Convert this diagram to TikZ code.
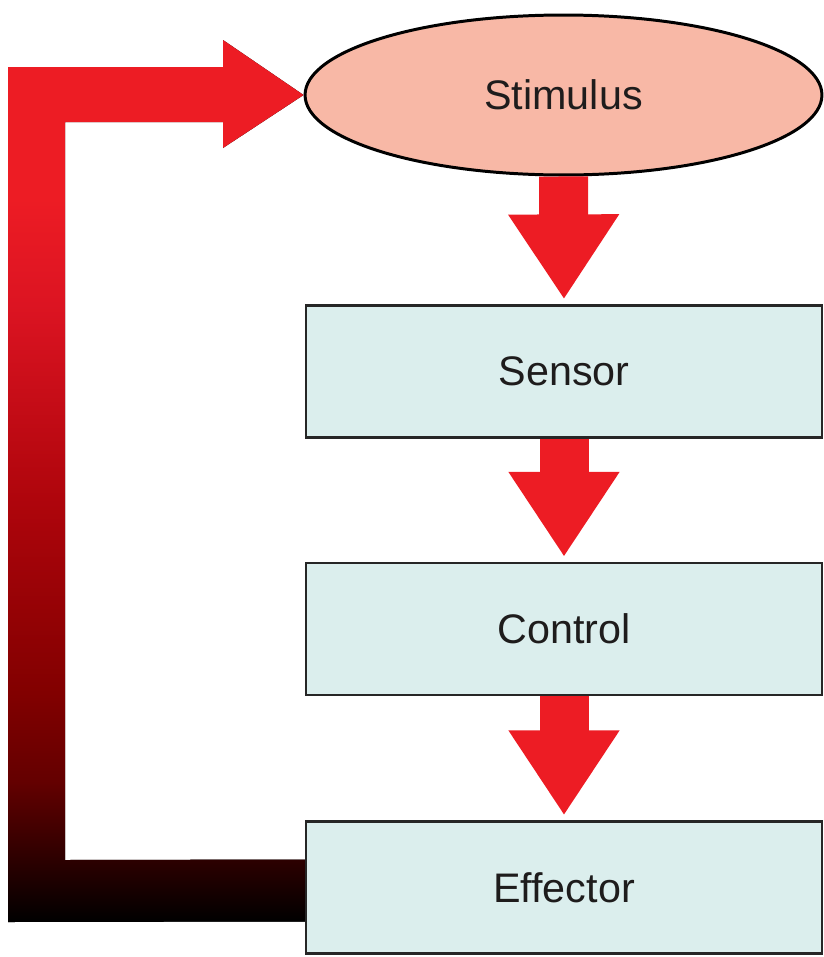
\documentclass[tikz,border=0pt]{standalone}
\usepackage{fontspec}
\setmainfont{Liberation Sans}
\usetikzlibrary{shapes.geometric,arrows.meta,calc}

\definecolor{arrowred}{RGB}{237,28,36}
\definecolor{stimfill}{RGB}{248,184,166}
\definecolor{boxfill}{RGB}{219,238,237}
\definecolor{loopred}{RGB}{220,20,34}
\definecolor{loopmid}{RGB}{175,5,12}
\definecolor{loopdark}{RGB}{130,0,0}
\definecolor{loopdeep}{RGB}{100,0,0}
\definecolor{textdark}{RGB}{30,28,28}

% red at the top, black at the bottom
\pgfdeclareverticalshading{loopshade}{100bp}{color(0bp)=(black); color(25bp)=(black);
	color(33bp)=(loopdeep); color(38bp)=(loopdark); color(49bp)=(loopmid);
	color(60bp)=(loopred); color(66bp)=(arrowred); color(100bp)=(arrowred)}

\begin{document}
\begin{tikzpicture}[x=0.02cm,y=-0.02cm]

	\tikzstyle{stimnode} = [ellipse,draw=black,line width=1.7pt,fill=stimfill,minimum width=10.34cm,minimum height=3.2cm,inner sep=0pt,text=textdark,font=\fontsize{23.5}{28}\selectfont]
	\tikzstyle{block} = [rectangle,draw=black!85,line width=1.3pt,fill=boxfill,minimum width=10.32cm,minimum height=2.64cm,text=textdark,font=\fontsize{23.5}{28}\selectfont]
	\tikzstyle{downarrow} = [arrowred,line width=0.98cm,-{Triangle[length=1.7cm,width=2.1cm]},shorten >=0.1cm]

	\useasboundingbox (0,0) rectangle (823,957);

	\node[stimnode] (stim) at (563.5,95) {Stimulus};
	\node[block] (sens) at (564,371.5) {Sensor};
	\node[block] (ctrl) at (564,629) {Control};
	\node[block] (eff) at (564,887.5) {Effector};

	\draw[downarrow] (stim.south) -- (sens.north);
	\draw[downarrow] (sens.south) -- (ctrl.north);
	\draw[downarrow] (ctrl.south) -- (eff.north);

	% feedback loop back to the stimulus
	\fill[shading=loopshade]
		($(eff.west)+(0,-28)$) -- (65,860) -- (65,122) -- (223,122) -- (223,148)
		-- (stim.west) -- (223,40) -- (223,67) -- (8,67) -- (8,922)
		-- ($(eff.west)+(0,34)$) -- cycle;

\end{tikzpicture}
\end{document}
